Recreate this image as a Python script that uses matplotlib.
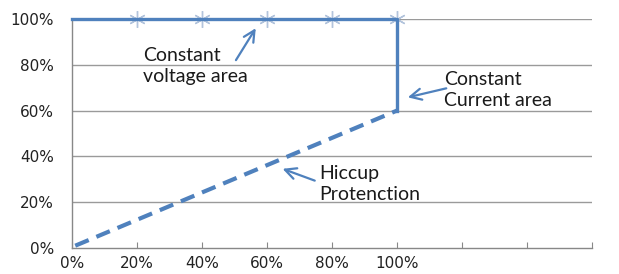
import numpy as np
import matplotlib.pyplot as plt

# values in percent
cv_x = [0, 100, 100]          # constant voltage then constant current
cv_y = [100, 100, 60]
hiccup_x = [1, 100]
hiccup_y = [1, 60]
star_x = [20, 40, 60, 80, 100]
star_y = [100, 100, 100, 100, 100]
xticks = [0, 20, 40, 60, 80, 100, 120, 140, 160]
xlabels = ["0%", "20%", "40%", "60%", "80%", "100%", "", "", ""]
yticks = [0, 20, 40, 60, 80, 100]
ylabels = ["0%", "20%", "40%", "60%", "80%", "100%"]

blue = "#4f81bd"
fig = plt.figure(figsize=(6.19, 2.74), dpi=100)
ax = fig.add_axes([0.1163, 0.0949, 0.84, 0.8358])

for y in yticks[1:]:
    ax.axhline(y, color="#9a9a9a", linewidth=1.0, zorder=1)

ax.plot(star_x, star_y, linestyle="None", marker=(6, 2, 0), markersize=12,
        markeredgecolor="#b3c4dc", markeredgewidth=1.0, zorder=2, clip_on=False)
ax.plot(cv_x, cv_y, color=blue, linewidth=2.4, zorder=3, clip_on=False)
ax.plot(hiccup_x, hiccup_y, color=blue, linewidth=3.0, dashes=(3.5, 2.0), zorder=3)

ax.set_xlim(0, 160)
ax.set_ylim(0, 100)
ax.set_xticks(xticks)
ax.set_xticklabels(xlabels)
ax.set_yticks(yticks)
ax.set_yticklabels(ylabels)
ax.tick_params(axis="x", direction="in", length=4, color="#888888",
               labelsize=11, labelcolor="#222222", pad=6)
ax.tick_params(axis="y", length=0, labelsize=11, labelcolor="#222222", pad=13)
for s in ["top", "right"]:
    ax.spines[s].set_visible(False)
for s in ["left", "bottom"]:
    ax.spines[s].set_color("#888888")
    ax.spines[s].set_linewidth(1.0)

tfont = dict(fontsize=14, color="#1a1a1a", family="Lato", linespacing=1.3,
             va="center", ha="left")
arrow = dict(arrowstyle="->", color=blue, linewidth=1.6, mutation_scale=20)

ax.annotate("", xy=(57, 97), xytext=(50, 81), arrowprops=arrow)
ax.text(22, 79.5, "Constant\nvoltage area", **tfont)

ax.annotate("", xy=(102.5, 65.5), xytext=(116, 70), arrowprops=arrow)
ax.text(114.5, 69, "Constant\nCurrent area", **tfont)

ax.annotate("", xy=(64, 35), xytext=(75.5, 29), arrowprops=arrow)
ax.text(76, 28, "Hiccup\nProtenction", **tfont)

fig.savefig("out.png", dpi=100)
